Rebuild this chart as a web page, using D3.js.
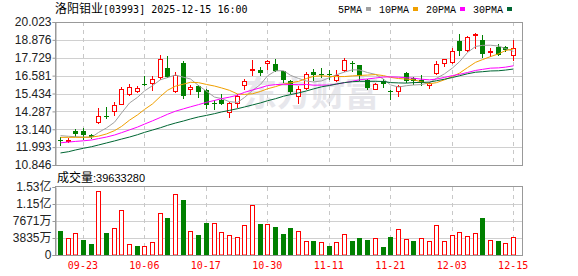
<!DOCTYPE html>
<html><head><meta charset="utf-8">
<script src="https://cdn.jsdelivr.net/npm/d3@7"></script>
<style>body{margin:0;background:#fff}svg{display:block}</style>
</head><body>
<svg id="c" width="578" height="276"></svg>
<script>
// ---------- data ----------
const dates = ["09-18","09-19","09-22","09-23","09-24","09-25","09-26","09-29","09-30","10-02",
  "10-03","10-06","10-08","10-09","10-10","10-13","10-14","10-15","10-16","10-17",
  "10-20","10-21","10-22","10-23","10-24","10-27","10-28","10-30","10-31","11-03",
  "11-04","11-05","11-06","11-07","11-10","11-11","11-12","11-13","11-14","11-17",
  "11-18","11-19","11-20","11-21","11-24","11-25","11-26","11-27","11-28","12-01",
  "12-02","12-03","12-04","12-05","12-08","12-09","12-10","12-11","12-12","12-15"];
const opens = [12.45,12.39,13.03,13.03,12.75,13.63,13.97,14.29,14.78,15.38,
  15.57,16.02,16.09,16.49,17.07,15.57,17.39,15.74,15.89,15.64,
  14.82,15.04,14.25,14.85,16.00,16.94,16.92,17.37,17.35,16.86,
  16.22,15.30,15.79,16.81,16.71,16.71,16.32,16.92,17.39,17.24,
  16.32,15.74,16.22,15.57,15.57,16.75,16.43,16.32,16.00,16.73,
  17.37,17.44,18.78,18.20,19.17,18.85,18.14,18.42,18.40,17.88];
const highs = [12.62,12.58,13.18,13.24,12.81,14.50,14.57,14.89,15.83,16.04,
  15.94,16.54,16.54,17.88,17.82,16.81,17.50,15.96,16.00,15.72,
  15.04,15.40,14.89,15.42,16.37,17.61,17.14,17.61,17.65,16.90,
  16.32,15.89,16.79,17.01,17.07,16.96,16.92,17.71,17.54,17.28,
  16.39,16.09,16.39,15.68,16.00,16.79,16.51,16.64,16.15,17.54,
  17.65,18.35,19.25,19.10,19.32,19.17,18.35,18.61,18.46,18.89];
const lows = [12.11,12.30,12.73,12.51,12.56,13.54,13.86,14.03,14.78,15.36,
  15.51,15.96,15.68,16.37,16.47,15.53,15.15,15.40,15.21,14.50,
  14.44,14.76,13.95,14.57,15.72,16.64,16.64,17.03,16.86,16.17,
  15.47,14.82,15.72,16.32,16.47,16.39,16.22,16.86,16.86,16.32,
  15.74,15.72,15.87,15.08,15.25,16.17,16.04,15.96,15.79,16.71,
  17.18,17.41,17.88,18.18,18.35,17.76,17.82,17.88,18.14,17.56];
const closes = [12.41,12.47,12.84,12.77,12.62,13.97,13.93,14.67,15.72,15.83,
  15.79,15.98,16.37,17.63,16.51,16.62,15.25,15.83,15.51,14.67,
  14.76,14.78,14.82,15.28,16.26,17.01,16.73,17.54,16.90,16.32,
  15.53,15.72,16.69,16.62,16.64,16.60,16.64,17.56,17.33,16.58,
  15.79,16.04,16.02,15.51,15.89,16.22,16.26,16.17,16.09,17.33,
  17.63,18.14,18.18,19.04,19.27,17.99,18.18,17.93,18.23,18.35];
// volume in shares
const volumes = [54.1e6,37.7e6,49.0e6,33.8e6,24.8e6,144.4e6,49.6e6,60.2e6,101.5e6,24.1e6,
  20.3e6,20.3e6,28.6e6,94.0e6,84.2e6,136.9e6,124.1e6,54.1e6,45.1e6,71.4e6,
  71.4e6,51.1e6,44.4e6,40.6e6,66.9e6,112.0e6,69.9e6,69.2e6,63.2e6,47.4e6,
  60.9e6,53.4e6,30.8e6,30.8e6,28.6e6,20.3e6,28.6e6,46.6e6,30.8e6,38.4e6,
  33.8e6,37.6e6,18.0e6,40.6e6,58.0e6,36.1e6,30.8e6,37.6e6,30.8e6,66.9e6,
  30.8e6,44.4e6,51.1e6,42.1e6,49.0e6,83.5e6,33.1e6,30.8e6,26.3e6,39633280];
// volume bar direction: u = up (red hollow), d = down (green)
const volDir = "duudduduuu" + "duuudududd" + "uuuuuududd" + "duududuudd" + "dudduuduuu" + "uuuuududuu";
// moving-average values before a full window of closes is available
const ma5Head  = [12.73,12.69,12.66,12.64];
const ma10Head = [12.62,12.62,12.62,12.62,12.64,12.70,12.84,13.05,13.32];
const ma20Head = [12.27,12.32,12.36,12.40,12.45,12.54,12.64,12.77,12.92,13.10,
  13.28,13.47,13.68,13.90,14.10,14.30,14.45,14.58,14.72];
const ma30Head = [11.62,11.70,11.81,11.92,12.02,12.13,12.26,12.39,12.51,12.64,
  12.79,12.94,13.09,13.24,13.39,13.54,13.67,13.80,13.93,14.03,
  14.14,14.25,14.35,14.46,14.57,14.70,14.83,14.97,15.10];
const priceTicks = [10.846,11.993,13.140,14.287,15.434,16.581,17.729,18.876,20.023];
const volTicks = [0,38355000,76710000,115065000,153420000];
const volTickLabels = ["0","3835万","7671万","1.15亿","1.53亿"];
const xLabelDates = ["09-23","10-06","10-17","10-30","11-11","11-21","12-03","12-15"];
const maPeriods = [5,10,20,30];
const maNames = ["5PMA","10PMA","20PMA","30PMA"];
const maHeads = [ma5Head, ma10Head, ma20Head, ma30Head];
const lastVolumeLabel = "39633280";

// ---------- styles / layout ----------
const maColors = ["#a0a0a0","#f0a000","#ff00ff","#006633"];
const RED = "#ff0000", GREEN = "#008000";
const L = 55, R = 522, T = 22, B = 165, VT = 187, VB = 255;
const sans = "'Liberation Sans', Arial, 'Noto Sans CJK SC', sans-serif";
const cjk = "'Noto Sans CJK SC', sans-serif";
const mono = "'DejaVu Sans Mono', monospace";
const serifMono = "'Liberation Mono', monospace";

const svg = d3.select("#c");
svg.append("rect").attr("width",578).attr("height",276).attr("fill","#fff");

const x = d3.scaleBand().domain(dates).range([56, 517]);
const cx = d => Math.round(x(d) + x.bandwidth()/2);
const y = d3.scaleLinear().domain([priceTicks[0], priceTicks[priceTicks.length-1]]).range([B, T]);
const vy = d3.scaleLinear().domain([volTicks[0], volTicks[volTicks.length-1]]).range([VB, VT]);

// watermark
svg.append("text").attr("x",243).attr("y",106)
  .attr("font-family",cjk).attr("font-size",34).attr("font-weight","bold")
  .attr("fill","#e7e7ec").text("东方财富");

// horizontal gridlines
svg.append("g").selectAll("line").data(priceTicks.slice(1,-1)).join("line")
  .attr("x1",L).attr("x2",R)
  .attr("y1",d=>Math.round(y(d))+0.5).attr("y2",d=>Math.round(y(d))+0.5)
  .attr("stroke","#d0d0d0");
svg.append("g").selectAll("line").data(volTicks.slice(1,-1)).join("line")
  .attr("x1",L).attr("x2",R)
  .attr("y1",d=>Math.round(vy(d))+0.5).attr("y2",d=>Math.round(vy(d))+0.5)
  .attr("stroke","#d0d0d0");
// vertical dashed gridlines
[[T,B],[VT,VB]].forEach(([a,b])=>{
  svg.append("g").selectAll("line").data(xLabelDates).join("line")
    .attr("x1",d=>cx(d)+0.5).attr("x2",d=>cx(d)+0.5)
    .attr("y1",a).attr("y2",b)
    .attr("stroke","#c8c8c8").attr("stroke-dasharray","4,4");
});

// moving averages
const maSeries = maPeriods.map((n,k)=>closes.map((c,i)=> i < n-1 ? maHeads[k][i] : d3.mean(closes.slice(i-n+1,i+1))));
const line = d3.line().x((d,i)=>cx(dates[i])+0.5).y(d=>y(d));

// candles
const cg = svg.append("g");
dates.forEach((d,i)=>{
  const up = closes[i] >= opens[i];
  const col = up ? RED : GREEN;
  const c = cx(d);
  cg.append("line").attr("x1",c+0.5).attr("x2",c+0.5)
    .attr("y1",Math.round(y(highs[i]))).attr("y2",Math.round(y(lows[i]))+1)
    .attr("stroke",col);
  if (up) {
    const yt = Math.round(y(closes[i])), yb = Math.round(y(opens[i]));
    cg.append("rect").attr("x",c-1.5).attr("y",yt+0.5).attr("width",4)
      .attr("height",Math.max(yb-yt,1)).attr("fill","#fff").attr("stroke",col);
  } else {
    const yt = Math.round(y(opens[i])), yb = Math.round(y(closes[i]));
    cg.append("rect").attr("x",c-2).attr("y",yt).attr("width",5)
      .attr("height",Math.max(yb-yt,1)).attr("fill",col);
  }
});

maSeries.forEach((s,k)=>{
  svg.append("path").datum(s).attr("d",line).attr("fill","none")
    .attr("stroke",maColors[k]).attr("stroke-width",1);
});

// volume bars
const vg = svg.append("g");
dates.forEach((d,i)=>{
  const up = volDir[i] === "u";
  const c = cx(d);
  const yt = Math.round(vy(volumes[i]));
  if (up) {
    vg.append("rect").attr("x",c-1.5).attr("y",yt+0.5).attr("width",4)
      .attr("height",VB-yt-0.5).attr("fill","#fff").attr("stroke",RED);
  } else {
    vg.append("rect").attr("x",c-2).attr("y",yt).attr("width",5)
      .attr("height",VB-yt).attr("fill",GREEN);
  }
});

// frames
svg.append("rect").attr("x",L+0.5).attr("y",T+0.5).attr("width",R-L).attr("height",B-T)
  .attr("fill","none").attr("stroke","#999");
svg.append("rect").attr("x",L+0.5).attr("y",VT-0.5).attr("width",R-L).attr("height",VB-VT+1)
  .attr("fill","none").attr("stroke","#999");

// axes
const yAxis = svg.append("g").attr("transform",`translate(${L+0.5},0)`)
  .call(d3.axisLeft(y).tickValues(priceTicks).tickFormat(d3.format(".3f")).tickSize(3).tickPadding(1));
const vAxis = svg.append("g").attr("transform",`translate(${L+0.5},0)`)
  .call(d3.axisLeft(vy).tickValues(volTicks).tickFormat((d,i)=>volTickLabels[i]).tickSize(3).tickPadding(1));
[yAxis,vAxis].forEach(g=>{
  g.select(".domain").attr("stroke","#999");
  g.selectAll(".tick line").attr("stroke","#999");
  g.selectAll(".tick text").attr("font-family",sans).attr("font-size",12).attr("fill","#222");
});
const xAxis = svg.append("g").attr("transform",`translate(0,${VB})`)
  .call(d3.axisBottom(x).tickValues(xLabelDates).tickSize(0).tickPadding(7));
xAxis.select(".domain").remove();
xAxis.selectAll(".tick text").attr("font-family",mono).attr("font-size",10).attr("fill",RED);

// title
const title = svg.append("text").attr("x",55).attr("y",13).attr("fill","#000");
title.append("tspan").attr("font-family",cjk).attr("font-size",12).text("洛阳钼业");
title.append("tspan").attr("font-family",mono).attr("font-size",10).text("[03993] 2025-12-15 16:00");

// legend
let lx = 338;
maNames.forEach((n,k)=>{
  const t = svg.append("text").attr("x",lx).attr("y",13).attr("font-family",serifMono)
    .attr("font-size",10).attr("fill","#000").text(n);
  const w = t.node().getComputedTextLength();
  svg.append("rect").attr("x",Math.round(lx+w+4)).attr("y",7).attr("width",5).attr("height",4)
    .attr("fill",maColors[k]);
  lx = Math.round(lx + w + 4 + 5 + 8);
});

// volume title
const vt = svg.append("text").attr("x",57).attr("y",182).attr("fill","#000");
vt.append("tspan").attr("font-family",cjk).attr("font-size",12).text("成交量");
vt.append("tspan").attr("font-family",sans).attr("font-size",11).text(":" + lastVolumeLabel);
</script>
</body></html>
